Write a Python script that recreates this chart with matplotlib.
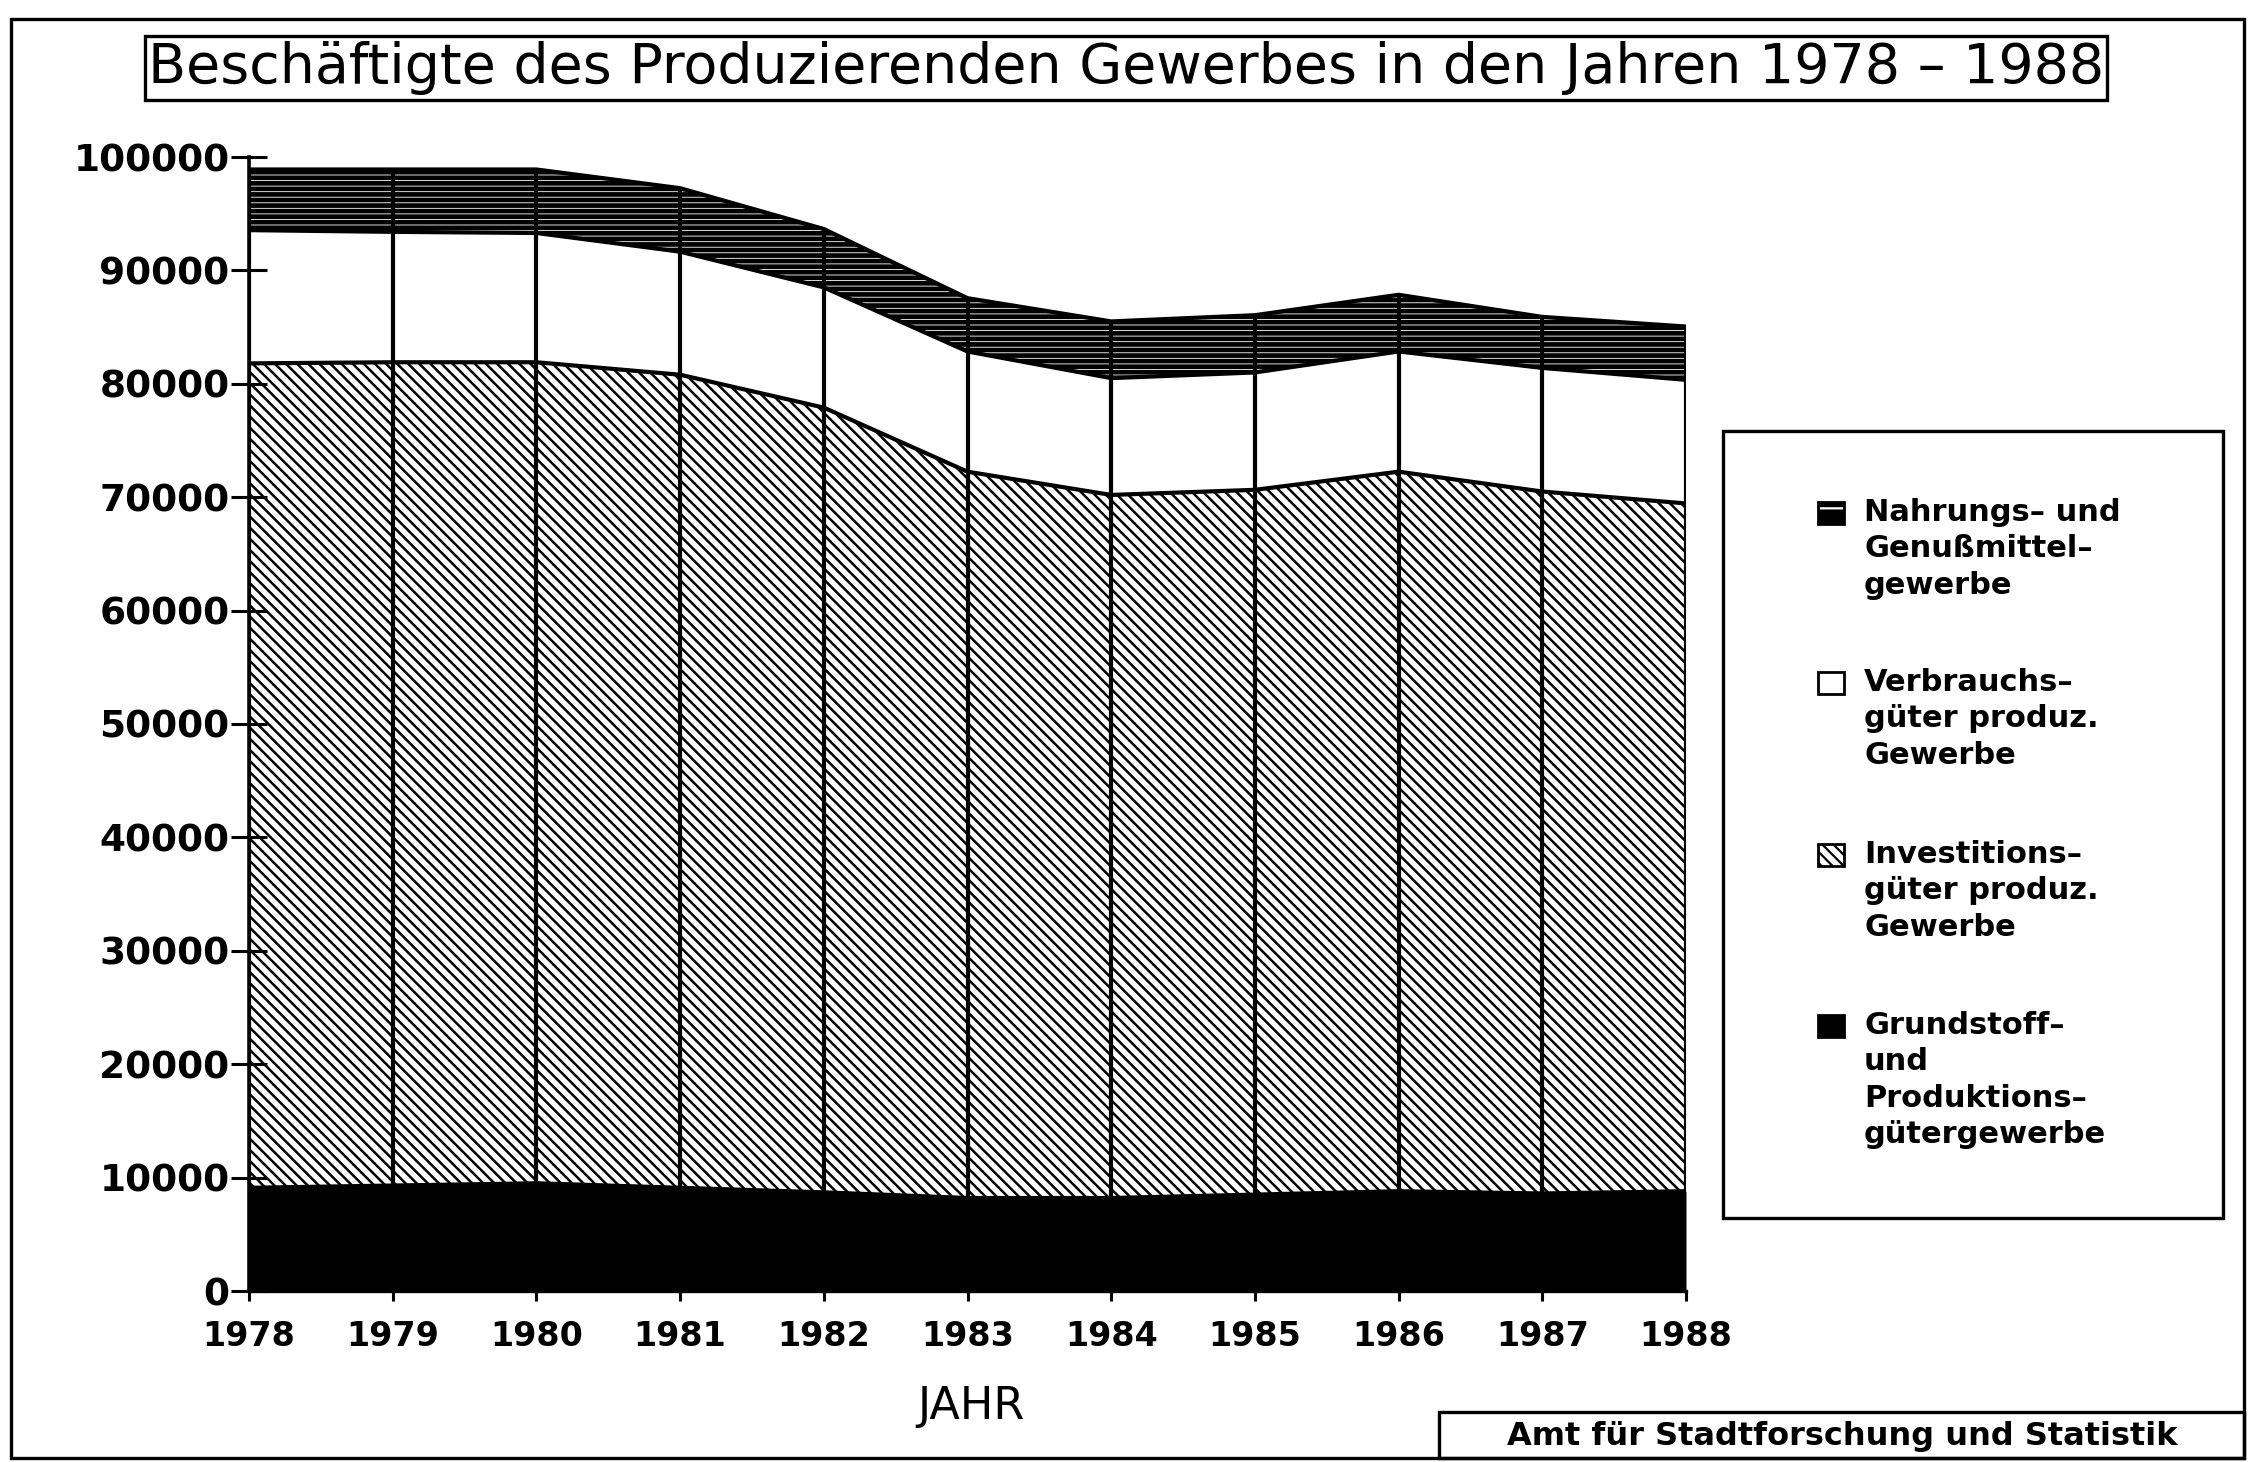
import numpy as np
import matplotlib
matplotlib.use("Agg")
import matplotlib.pyplot as plt
from matplotlib.patches import Rectangle

# data (employees per sector)
years = [1978, 1979, 1980, 1981, 1982, 1983, 1984, 1985, 1986, 1987, 1988]
grundstoff = [9100, 9300, 9500, 9100, 8700, 8200, 8200, 8500, 8800, 8600, 8800]
investition = [72700, 72600, 72400, 71700, 69200, 64050, 62000, 62150, 63450, 61900, 60650]
verbrauch = [11750, 11500, 11400, 10850, 10600, 10600, 10300, 10350, 10600, 10900, 10900]
nahrung = [5350, 5500, 5600, 5600, 5150, 4700, 5000, 5050, 5000, 4500, 4700]

legend_labels = ["Nahrungs– und\nGenußmittel–\ngewerbe",
                 "Verbrauchs–\ngüter produz.\nGewerbe",
                 "Investitions–\ngüter produz.\nGewerbe",
                 "Grundstoff–\nund\nProduktions–\ngütergewerbe"]
yticks = [0, 10000, 20000, 30000, 40000, 50000, 60000, 70000, 80000, 90000, 100000]

title = "Beschäftigte des Produzierenden Gewerbes in den Jahren 1978 – 1988"
footer = "Amt für Stadtforschung und Statistik"

W, H = 2252, 1462
fig = plt.figure(figsize=(W / 100, H / 100), dpi=100)
ax = fig.add_axes([249 / W, 1 - 1291 / H, (1686 - 249) / W, (1291 - 157) / H])

x = np.array(years)
c1 = np.array(grundstoff)
c2 = c1 + np.array(investition)
c3 = c2 + np.array(verbrauch)
c4 = c3 + np.array(nahrung)

DIAG = '\\\\\\'
FOOD = '---'

ax.fill_between(x, 0, c1, facecolor='black', edgecolor='black', lw=0)
with plt.rc_context({'hatch.linewidth': 1.8}):
    ax.fill_between(x, c1, c2, facecolor='white', edgecolor='black', hatch=DIAG, lw=0)
ax.fill_between(x, c2, c3, facecolor='white', lw=0)
with plt.rc_context({'hatch.linewidth': 0.6}):
    ax.fill_between(x, c3, c4, facecolor='black', edgecolor='white', hatch=FOOD, lw=0)
for c in (c1, c2, c3, c4):
    ax.plot(x, c, color='black', lw=3)
ax.vlines(x, 0, c4, color='black', lw=3)

ax.set_xlim(1978, 1988)
ax.set_ylim(0, 100000)
ax.set_xticks(years)
ax.set_yticks(yticks)
ax.set_yticklabels([str(v) for v in yticks], fontsize=27, fontweight='bold')
ax.set_xticklabels([str(v) for v in years], fontsize=24, fontweight='bold')
ax.tick_params(axis='y', direction='inout', length=26, width=2.2, pad=1)
ax.tick_params(axis='x', direction='out', length=7, width=2.2, pad=14)
for s in ('top', 'right'):
    ax.spines[s].set_visible(False)
ax.spines['left'].set_linewidth(2.6)
ax.spines['bottom'].set_linewidth(2.4)

fig.text(971 / W, 1 - 1406 / H, "JAHR", fontsize=32, ha='center', va='center')

# title box
fig.patches.append(Rectangle((145 / W, 1 - 100 / H), (2107 - 145) / W, 64 / H,
                             transform=fig.transFigure, fill=False, lw=2.4, ec='black'))
fig.text(0.5, 1 - 68 / H, title, fontsize=40, ha='center', va='center')

# outer frame
fig.patches.append(Rectangle((11 / W, 1 - 1458 / H), 2233 / W, 1439 / H,
                             transform=fig.transFigure, fill=False, lw=2.4, ec='black'))

# footer
fig.patches.append(Rectangle((1439 / W, 1 - 1458 / H), (2244 - 1439) / W, 46 / H,
                             transform=fig.transFigure, fill=False, lw=2.4, ec='black'))
fig.text(1842 / W, 1 - 1436 / H, footer, fontsize=23, fontweight='bold', ha='center', va='center')

# legend box
fig.patches.append(Rectangle((1723 / W, 1 - 1218 / H), 500 / W, 787 / H,
                             transform=fig.transFigure, fill=False, lw=2.4, ec='black'))
tops = [498, 668, 840, 1011]
styles = [dict(facecolor='black', edgecolor='white', hatch='-'),
          dict(facecolor='white', edgecolor='black'),
          dict(facecolor='white', edgecolor='black', hatch=DIAG),
          dict(facecolor='black', edgecolor='black')]
for lab, t, st in zip(legend_labels, tops, styles):
    with plt.rc_context({'hatch.linewidth': 1.6}):
        fig.patches.append(Rectangle((1818 / W, 1 - (t + 26) / H), 26 / W, 22 / H,
                                     transform=fig.transFigure, lw=0, **st))
    fig.patches.append(Rectangle((1818 / W, 1 - (t + 26) / H), 26 / W, 22 / H,
                                 transform=fig.transFigure, fill=False, lw=2, ec='black'))
    fig.text(1864 / W, 1 - t / H, lab, fontsize=22, fontweight='bold', ha='left', va='top',
             linespacing=1.32)

fig.savefig("out.png", dpi=100, facecolor='white')
